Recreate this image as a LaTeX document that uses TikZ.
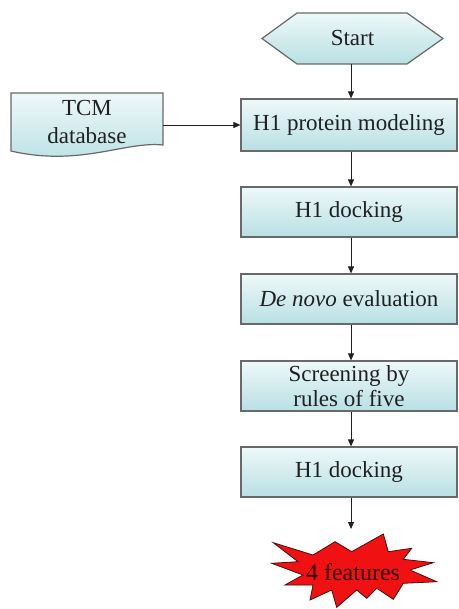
\documentclass[tikz,border=0pt]{standalone}
\usepackage{fontspec}
\setmainfont{Liberation Serif}
\newfontfamily\flowfont{Liberation Serif}
\usetikzlibrary{arrows.meta,calc}
\definecolor{boxtop}{RGB}{238,248,249}
\definecolor{boxbot}{RGB}{184,224,228}
\definecolor{edge}{RGB}{105,105,105}
\definecolor{ink}{RGB}{32,32,32}
\definecolor{burst}{RGB}{240,18,18}
\definecolor{burstedge}{RGB}{80,10,10}
\definecolor{burstink}{RGB}{50,0,0}
\begin{document}
\begin{tikzpicture}[x=1pt,y=-1pt,
  every node/.style={font=\flowfont\fontsize{23}{25}\selectfont, text=ink},
  stepbox/.style={draw=edge, line width=1.2pt, top color=boxtop, bottom color=boxbot,
    minimum width=216pt, minimum height=50pt, inner sep=0pt, align=center},
  outline/.style={draw=edge, line width=1.2pt, top color=boxtop, bottom color=boxbot},
  flow/.style={draw=ink, line width=0.9pt, -{Triangle[length=7pt,width=6pt]}}]
\useasboundingbox (0,0) rectangle (458,609);

% start terminal (hexagon)
\path[outline] (262,38.5) -- (297,13) -- (407,13) -- (443,38.5) -- (407,64) -- (297,64) -- cycle;
\node[minimum width=181pt, minimum height=51pt, inner sep=0pt] (start) at (352.5,38.5) {Start};

% database input (document shape with wavy bottom)
\path[outline] (11,93) -- (163,93) -- (163,145)
  .. controls (125,141) and (80,167) .. (11,151) -- cycle;
\node[minimum width=152pt, inner sep=0pt, align=center,
  font=\flowfont\fontsize{23}{28}\selectfont] (tcm) at (87,122) {TCM\\database};

% process steps
\node[stepbox, minimum height=52pt] (model) at (349,125) {H1 protein modeling};
\node[stepbox] (dock1)  at (349,212) {H1 docking};
\node[stepbox] (denovo) at (349,299) {\textit{De novo} evaluation};
\node[stepbox] (screen) at (349,386) {Screening by\\rules of five};
\node[stepbox] (dock2)  at (349,472) {H1 docking};

% result starburst
\path[fill=burst, draw=burstedge, line width=0.8pt]
  (273.3,542.7) -- (313,555) -- (335,541.7) -- (351.7,551.7) -- (383.3,534)
  -- (388.3,551.7) -- (411.7,548.3) -- (403.3,559.3) -- (433.3,562.7)
  -- (410,570) -- (436.7,581.7) -- (403.3,583.3) -- (393.3,599.3)
  -- (376.7,588.3) -- (366.7,598.3) -- (356.7,590) -- (336.7,607.3)
  -- (331.7,590) -- (310,600) -- (313,585) -- (285,585) -- (303,575)
  -- (271.7,563.3) -- (298,561.7) -- cycle;
\node[text=burstink, font=\flowfont\fontsize{24}{26}\selectfont] (feat) at (353,572) {4 features};

% connectors
\coordinate (spine) at (351,0);
\coordinate (burstTop) at (351,529);
\draw[flow] (start.south -| spine) -- (model.north -| spine);
\draw[flow] (tcm.east |- model) -- (model.west);
\draw[flow] (model.south -| spine) -- (dock1.north -| spine);
\draw[flow] (dock1.south -| spine) -- (denovo.north -| spine);
\draw[flow] (denovo.south -| spine) -- (screen.north -| spine);
\draw[flow] (screen.south -| spine) -- (dock2.north -| spine);
\draw[flow] (dock2.south -| spine) -- (burstTop);
\end{tikzpicture}
\end{document}
